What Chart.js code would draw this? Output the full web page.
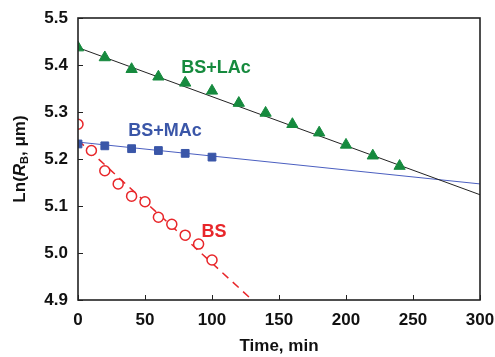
<!DOCTYPE html>
<html><head><meta charset="utf-8">
<script src="https://cdn.jsdelivr.net/npm/chart.js@4"></script>
<style>html,body{margin:0;padding:0;background:#fff}#wrap{width:495px;height:357px}</style>
</head><body><div id="wrap"><canvas id="c" width="495" height="357"></canvas></div>
<script>
// Data
const timeLAc = [0,20,40,60,80,100,120,140,160,180,200,220,240];
const lnLAc   = [5.437,5.416,5.391,5.375,5.362,5.345,5.319,5.298,5.274,5.256,5.230,5.207,5.185];
const timeMAc = [0,20,40,60,80,100];
const lnMAc   = [5.232,5.228,5.222,5.218,5.212,5.204];
const timeBS  = [0,10,20,30,40,50,60,70,80,90,100];
const lnBS    = [5.274,5.218,5.175,5.147,5.121,5.109,5.076,5.061,5.038,5.019,4.985];
// fitted trend lines (end points)
const fitLAcX = [0,300], fitLAcY = [5.437,5.124];
const fitMAcX = [0,300], fitMAcY = [5.236,5.147];
const fitBSX  = [0,130], fitBSY  = [5.240,4.900];
const xTicks = [0,50,100,150,200,250,300];
const yTicks = [4.9,5.0,5.1,5.2,5.3,5.4,5.5];
const seriesLabels = [
  {text:'BS+LAc', x:103, y:5.394, color:'#168a3e'},
  {text:'BS+MAc', x:65,  y:5.260, color:'#3a56a8'},
  {text:'BS',     x:101.5, y:5.045, color:'#e8262a'}
];

const GREEN='#168a3e', BLUE='#3a56a8', RED='#e8262a';
const pts=(xs,ys)=>xs.map((x,i)=>({x:x,y:ys[i]}));
const FONT='"Liberation Sans", Arial, sans-serif';

const deco = {
  id:'deco',
  afterDatasetsDraw(chart){
    const {ctx, chartArea:a, scales:{x,y}} = chart;
    ctx.save();
    // inward ticks
    ctx.strokeStyle='#222'; ctx.lineWidth=1;
    xTicks.forEach(v=>{const px=Math.round(x.getPixelForValue(v))+0.5; ctx.beginPath(); ctx.moveTo(px,a.bottom); ctx.lineTo(px,a.bottom-5); ctx.stroke();});
    yTicks.forEach(v=>{const py=Math.round(y.getPixelForValue(v))+0.5; ctx.beginPath(); ctx.moveTo(a.left,py); ctx.lineTo(a.left+5,py); ctx.stroke();});
    // frame
    ctx.lineWidth=1.6; ctx.strokeStyle='#222';
    ctx.strokeRect(a.left, a.top, a.right-a.left, a.bottom-a.top);
    // series labels
    ctx.font='bold 18px '+FONT; ctx.textAlign='center'; ctx.textBaseline='middle';
    seriesLabels.forEach(l=>{ctx.fillStyle=l.color; ctx.fillText(l.text, x.getPixelForValue(l.x), y.getPixelForValue(l.y));});
    // y title with italic R and subscript B
    ctx.translate(20, (a.top+a.bottom)/2);
    ctx.rotate(-Math.PI/2);
    ctx.fillStyle='#111'; ctx.textBaseline='middle'; ctx.textAlign='left';
    const parts=[['Ln(','bold 17px '+FONT,0],['R','italic bold 17px '+FONT,0],['B','bold 11px '+FONT,5],[', \u03bcm)','bold 17px '+FONT,0]];
    let w=0; parts.forEach(p=>{ctx.font=p[1]; w+=ctx.measureText(p[0]).width;});
    let cx=-w/2;
    parts.forEach(p=>{ctx.font=p[1]; ctx.fillText(p[0],cx,p[2]); cx+=ctx.measureText(p[0]).width;});
    ctx.restore();
  }
};

new Chart(document.getElementById('c'), {
  type:'scatter',
  data:{datasets:[
    {data:pts(fitLAcX,fitLAcY), showLine:true, borderColor:'#222', borderWidth:1, pointRadius:0, order:5},
    {data:pts(fitMAcX,fitMAcY), showLine:true, borderColor:'#4b5fc0', borderWidth:1, pointRadius:0, order:5},
    {data:pts(fitBSX,fitBSY), showLine:true, borderColor:RED, borderWidth:1.5, borderDash:[8,6], pointRadius:0, order:5},
    {data:pts(timeLAc,lnLAc), pointStyle:'triangle', pointRadius:6.5, backgroundColor:GREEN, borderColor:GREEN, borderWidth:1, order:1},
    {data:pts(timeMAc,lnMAc), pointStyle:'rect', pointRadius:5.5, backgroundColor:BLUE, borderColor:BLUE, borderWidth:1, order:1},
    {data:pts(timeBS,lnBS), pointStyle:'circle', pointRadius:5, backgroundColor:'#fff', borderColor:RED, borderWidth:1.5, order:1}
  ]},
  options:{
    responsive:false, animation:false, devicePixelRatio:1,
    layout:{padding:{top:18,right:15,left:0,bottom:0}},
    plugins:{legend:{display:false}, tooltip:{enabled:false}},
    scales:{
      x:{type:'linear', min:0, max:300,
         afterBuildTicks:s=>{s.ticks=xTicks.map(v=>({value:v}));},
         afterFit:s=>{s.height=57; s.paddingLeft=0; s.paddingRight=0;},
         grid:{display:false, drawTicks:false}, border:{display:false},
         ticks:{color:'#111', padding:10, font:{family:FONT, size:17, weight:'bold'}, maxRotation:0},
         title:{display:true, text:'Time, min', color:'#111', font:{family:FONT, size:17, weight:'bold'}, padding:{top:4,bottom:0}}},
      y:{type:'linear', min:4.9, max:5.5,
         afterBuildTicks:s=>{s.ticks=yTicks.map(v=>({value:v}));},
         afterFit:s=>{s.width=78; s.paddingTop=0; s.paddingBottom=0;},
         grid:{display:false, drawTicks:false}, border:{display:false},
         ticks:{color:'#111', padding:10, font:{family:FONT, size:17, weight:'bold'}, callback:v=>Number(v).toFixed(1)}}
    }
  },
  plugins:[deco]
});
</script></body></html>
